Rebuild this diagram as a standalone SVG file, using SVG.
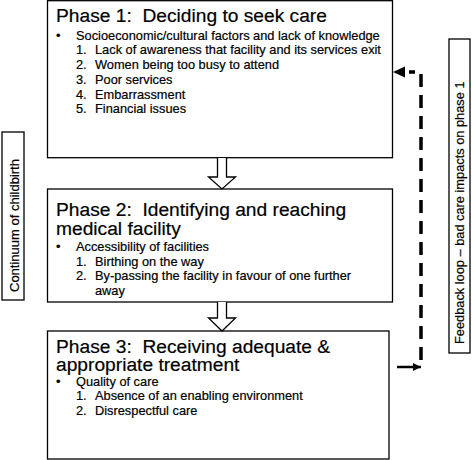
<svg xmlns="http://www.w3.org/2000/svg" width="473" height="460" viewBox="0 0 473 460">
<style>
text{font-family:"Liberation Sans",Arial,sans-serif;fill:#000;white-space:pre;stroke:#000;stroke-width:0.2}
.box{fill:#fff;stroke:#000;stroke-width:1.3}
.t{font-size:19.2px}
.b{font-size:12.8px}
.side{font-size:13px}
.block{fill:#fff;stroke:#000;stroke-width:1.3}
.dash{fill:none;stroke:#000;stroke-width:3.5;stroke-dasharray:13 8}
</style>
<defs>
<marker id="ah" viewBox="0 0 10 10" refX="10" refY="5" markerWidth="3.2" markerHeight="3.2" orient="auto" markerUnits="strokeWidth">
<path d="M0,0 L10,5 L0,10 Z" fill="#000"/>
</marker>
</defs>
<rect width="473" height="460" fill="#fff"/>

<g id="phase1">
<rect class="box" x="47.5" y="0.7" width="345" height="157"/>
<text class="t" x="56" y="21.5">Phase 1:  Deciding to seek care</text>
<text class="b" x="56" y="39.5">•</text>
<text class="b" x="76" y="39.5">Socioeconomic/cultural factors and lack of knowledge</text>
<text class="b" x="76" y="54">1.</text><text class="b" x="95" y="54">Lack of awareness that facility and its services exit</text>
<text class="b" x="76" y="69">2.</text><text class="b" x="95" y="69">Women being too busy to attend</text>
<text class="b" x="76" y="84">3.</text><text class="b" x="95" y="84">Poor services</text>
<text class="b" x="76" y="98.5">4.</text><text class="b" x="95" y="98.5">Embarrassment</text>
<text class="b" x="76" y="113">5.</text><text class="b" x="95" y="113">Financial issues</text>
</g>

<g id="phase2">
<rect class="box" x="47.5" y="189" width="345" height="113"/>
<text class="t" x="56" y="216.3">Phase 2:  Identifying and reaching</text>
<text class="t" x="56" y="234.5">medical facility</text>
<text class="b" x="56" y="251">•</text>
<text class="b" x="76" y="251">Accessibility of facilities</text>
<text class="b" x="76" y="265.5">1.</text><text class="b" x="95" y="265.5">Birthing on the way</text>
<text class="b" x="76" y="280">2.</text><text class="b" x="95" y="280">By-passing the facility in favour of one further</text>
<text class="b" x="95" y="294.5">away</text>
</g>

<g id="phase3">
<rect class="box" x="47.5" y="331" width="341.5" height="128" stroke="#333"/>
<text class="t" x="56" y="353">Phase 3:  Receiving adequate &amp;</text>
<text class="t" x="56" y="370.8">appropriate treatment</text>
<text class="b" x="56" y="385.7">•</text>
<text class="b" x="76" y="385.7">Quality of care</text>
<text class="b" x="76" y="400">1.</text><text class="b" x="95" y="400">Absence of an enabling environment</text>
<text class="b" x="76" y="414.5">2.</text><text class="b" x="95" y="414.5">Disrespectful care</text>
</g>

<g id="continuum">
<rect class="box" x="2" y="132" width="22" height="168"/>
<text class="side" transform="translate(18.5,292) rotate(-90)">Continuum of childbirth</text>
</g>

<g id="feedback">
<rect class="box" x="449" y="39" width="21" height="314"/>
<text class="b" transform="translate(464,344) rotate(-90)">Feedback loop – bad care impacts on phase 1</text>
</g>

<g id="connectors">
<path class="block" d="M217.5,158 V177 H208.5 L222,189 L235.5,177 H226.5 V158"/>
<path class="block" d="M217.5,302 V318 H208.5 L222,331 L235.5,318 H226.5 V302"/>
<path class="dash" d="M421,360 V72 H409"/>
<path d="M393,72 L405,66.5 L405,77.5 Z" fill="#000"/>
<line x1="397" y1="367" x2="421" y2="367" stroke="#000" stroke-width="2.5" marker-end="url(#ah)"/>
</g>
</svg>
